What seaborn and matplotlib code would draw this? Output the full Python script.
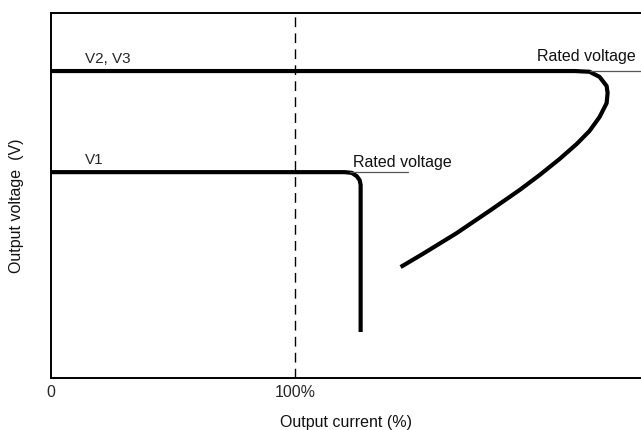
import matplotlib
matplotlib.use("Agg")
import matplotlib.pyplot as plt
import seaborn as sns
import pandas as pd

# Output current (%) and output voltage (arbitrary units, 0..100 of the plot height)
v1_current = [0, 120.5, 123.4, 125.4, 126.6, 127.0, 127.0]
v1_voltage = [56.4, 56.4, 56.2, 55.3, 54.2, 52.9, 12.6]

v23_current = [0, 214.8, 220.9, 225.0, 227.9, 228.3, 227.9, 225.0, 220.9, 215.6,
               208.6, 200.4, 192.2, 179.9, 166.4, 152.5, 143.4]
v23_voltage = [84.1, 84.1, 83.9, 82.5, 80.0, 78.1, 75.3, 71.5, 67.7, 64.1,
               60.0, 55.6, 51.5, 45.8, 39.7, 34.0, 30.4]

rated_v1_current = [122.5, 146.3]
rated_v1_voltage = [56.4, 56.4]
rated_v23_current = [220.9, 242.0]
rated_v23_voltage = [84.1, 84.1]

ref_current = [100, 100]
ref_voltage = [0, 100]

tick_positions = [0, 100]
tick_labels = ["0", "100%"]

series_labels = ["V1", "V2, V3"]
rated_label = "Rated voltage"
x_title = "Output current (%)"
y_title = "Output voltage  (V)"

sns.set_theme(style="white")
plt.rcParams["font.family"] = ["Liberation Sans", "DejaVu Sans"]

fig = plt.figure(figsize=(6.41, 4.30), dpi=100)
ax = fig.add_axes([51 / 641, 52 / 430, 1 - 51 / 641, (378 - 13) / 430])

df1 = pd.DataFrame({"x": v1_current, "y": v1_voltage})
df23 = pd.DataFrame({"x": v23_current, "y": v23_voltage})

sns.lineplot(data=df1, x="x", y="y", sort=False, estimator=None, ax=ax,
             color="black", lw=3.0, solid_joinstyle="round", solid_capstyle="butt")
sns.lineplot(data=df23, x="x", y="y", sort=False, estimator=None, ax=ax,
             color="black", lw=3.0, solid_joinstyle="round", solid_capstyle="butt")

sns.lineplot(x=rated_v1_current, y=rated_v1_voltage, ax=ax, color="#555555",
             lw=0.9, estimator=None, sort=False)
sns.lineplot(x=rated_v23_current, y=rated_v23_voltage, ax=ax, color="#555555",
             lw=0.9, estimator=None, sort=False)

sns.lineplot(x=ref_current, y=ref_voltage, ax=ax, color="black", lw=1.0,
             estimator=None, sort=False, linestyle=(0, (7, 4.5)))

ax.set_xlim(0, 242)
ax.set_ylim(0, 100)

ax.text(123.8, 57.8, rated_label, fontsize=11.5, ha="left", va="baseline", color="#111111")
ax.text(199.2, 86.8, rated_label, fontsize=11.5, ha="left", va="baseline", color="#111111")
ax.text(13.9, 86.3, series_labels[1], fontsize=11, ha="left", va="baseline")
ax.text(13.9, 58.6, series_labels[0], fontsize=11, ha="left", va="baseline")

ax.set_xticks(tick_positions)
ax.set_xticklabels(tick_labels, fontsize=11.5)
ax.set_yticks([])
ax.tick_params(axis="x", length=0, pad=5)

ax.set_xlabel(x_title, fontsize=11.5, labelpad=11, color="#111111")
ax.set_ylabel(y_title, fontsize=11.5, color="#111111")
ax.yaxis.set_label_coords(-0.046, 0.471)

for side in ["left", "bottom", "top"]:
    ax.spines[side].set_visible(True)
    ax.spines[side].set_color("black")
    ax.spines[side].set_linewidth(1.4)
ax.spines["right"].set_visible(False)

fig.savefig("out.png", dpi=100)
